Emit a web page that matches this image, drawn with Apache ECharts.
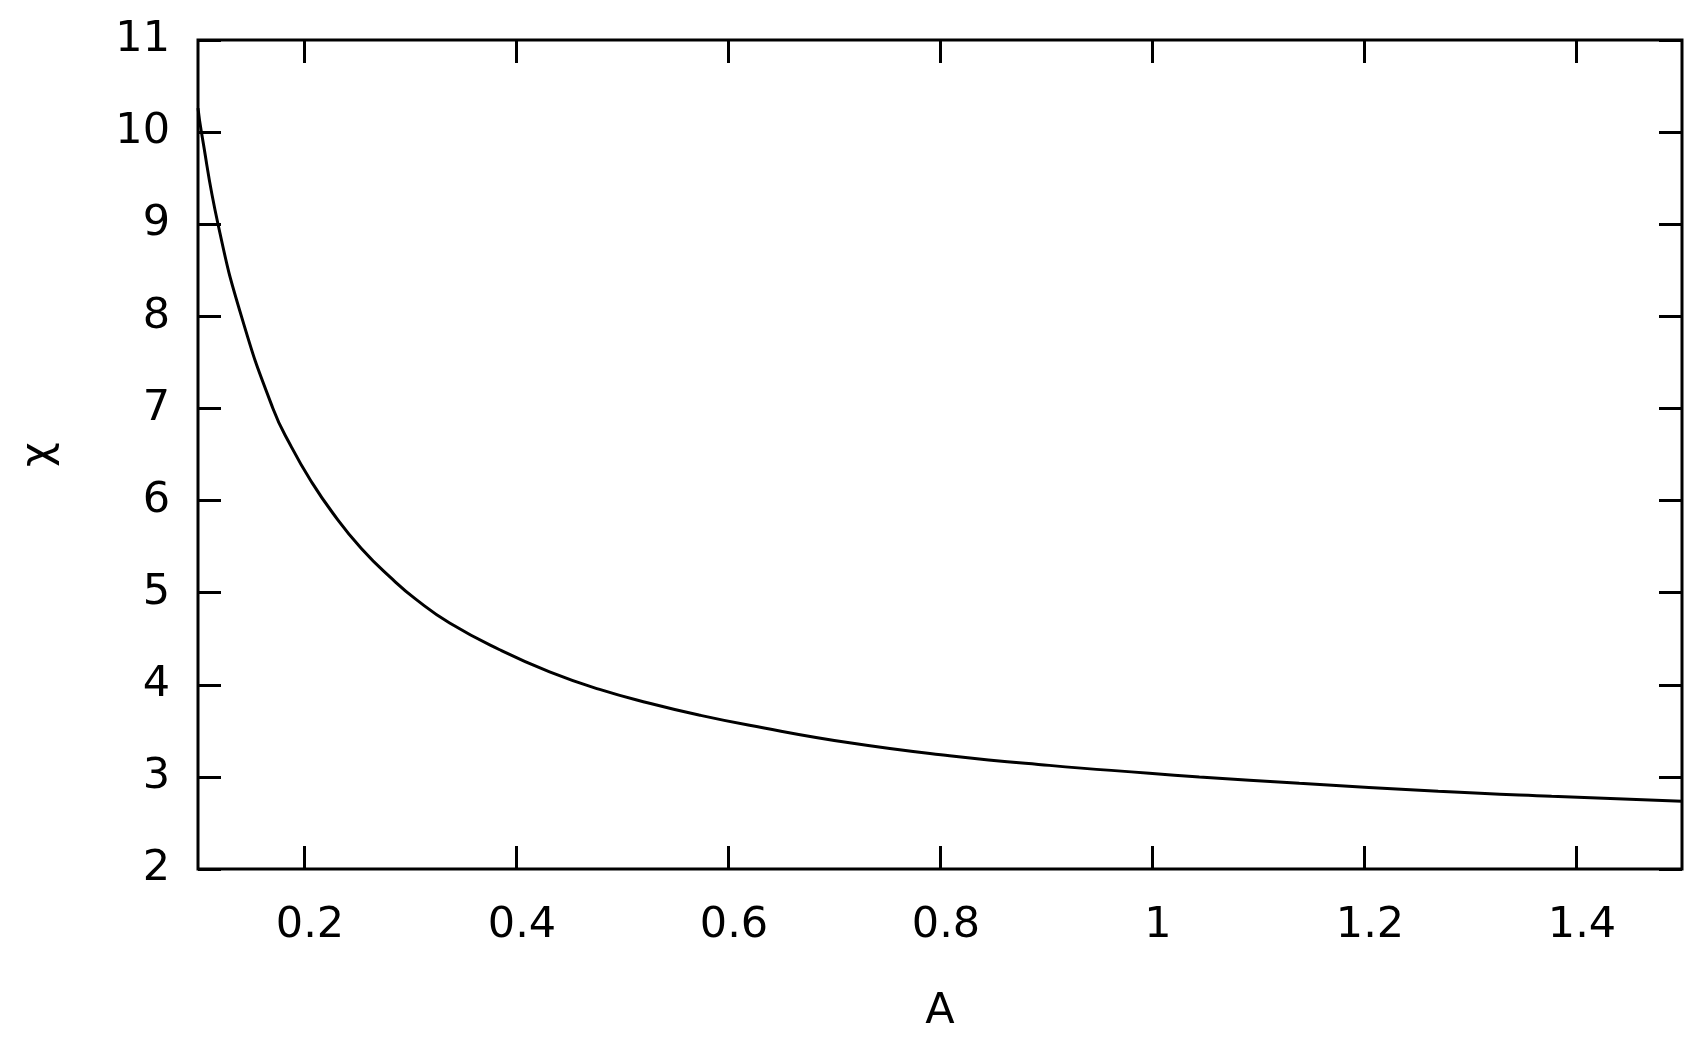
<!DOCTYPE html>
<html>
<head>
<meta charset="utf-8">
<script src="https://cdn.jsdelivr.net/npm/echarts@6/dist/echarts.min.js"></script>
<style>
html,body{margin:0;padding:0;background:#fff;}
#chart{width:1704px;height:1038px;}
</style>
</head>
<body>
<div id="chart"></div>
<script>
// Data
const aValues   = [0.1, 0.1032, 0.1189, 0.141, 0.1707, 0.1881, 0.206, 0.2273, 0.2541, 0.2839, 0.306, 0.3374, 0.3846, 0.4317, 0.4789, 0.526, 0.5732, 0.6203, 0.7146, 0.809, 0.903, 0.9975, 1.0447, 1.139, 1.270, 1.377, 1.5];
const chiValues = [10.26, 10.0, 9.0, 8.0, 7.0, 6.583, 6.223, 5.862, 5.48, 5.141, 4.924, 4.67, 4.38, 4.14, 3.95, 3.80, 3.67, 3.56, 3.37, 3.23, 3.125, 3.04, 3.0, 2.93, 2.845, 2.79, 2.735];
const xTicks = [0.2, 0.4, 0.6, 0.8, 1.0, 1.2, 1.4];
const yTicks = [2, 3, 4, 5, 6, 7, 8, 9, 10, 11];
const xName = 'A';
const yName = 'χ';

const points = aValues.map((a, i) => [a, chiValues[i]]);
const FONT = 'DejaVu Sans';
const FS = 43;

const chart = echarts.init(document.getElementById('chart'), null, {renderer: 'canvas'});
const tickStyle = {show: true, inside: true, length: 23, lineStyle: {color: '#000', width: 3}};

chart.setOption({
  animation: false,
  backgroundColor: '#fff',
  grid: {left: 198, top: 40, right: 22, bottom: 167, show: true, borderColor: '#000', borderWidth: 3, backgroundColor: 'transparent'},
  xAxis: [
    {
      type: 'value', min: 0.1, max: 1.5, position: 'bottom',
      name: xName, nameLocation: 'middle', nameGap: 121,
      nameTextStyle: {fontFamily: FONT, fontSize: FS, color: '#000'},
      axisLine: {show: false},
      splitLine: {show: false},
      axisTick: Object.assign({customValues: xTicks}, tickStyle),
      axisLabel: {customValues: xTicks, fontFamily: FONT, fontSize: FS, color: '#000', margin: 35, padding: [0, 0, 0, 12]}
    },
    {
      type: 'value', min: 0.1, max: 1.5, position: 'top',
      axisLine: {show: false}, splitLine: {show: false},
      axisTick: Object.assign({customValues: xTicks}, tickStyle),
      axisLabel: {show: false}
    }
  ],
  yAxis: [
    {
      type: 'value', min: 2, max: 11, position: 'left',
      name: yName, nameLocation: 'middle', nameGap: 138, nameRotate: 90,
      nameTextStyle: {fontFamily: FONT, fontSize: FS, color: '#000'},
      axisLine: {show: false}, splitLine: {show: false},
      axisTick: Object.assign({customValues: yTicks}, tickStyle),
      axisLabel: {customValues: yTicks, fontFamily: FONT, fontSize: FS, color: '#000', margin: 28}
    },
    {
      type: 'value', min: 2, max: 11, position: 'right',
      axisLine: {show: false}, splitLine: {show: false},
      axisTick: Object.assign({customValues: yTicks}, tickStyle),
      axisLabel: {show: false}
    }
  ],
  series: [{
    type: 'line',
    data: points,
    xAxisIndex: 0, yAxisIndex: 0,
    showSymbol: false, symbol: 'none',
    smooth: 0.5,
    clip: true,
    lineStyle: {color: '#000', width: 3},
    z: 3
  }]
});
</script>
</body>
</html>
